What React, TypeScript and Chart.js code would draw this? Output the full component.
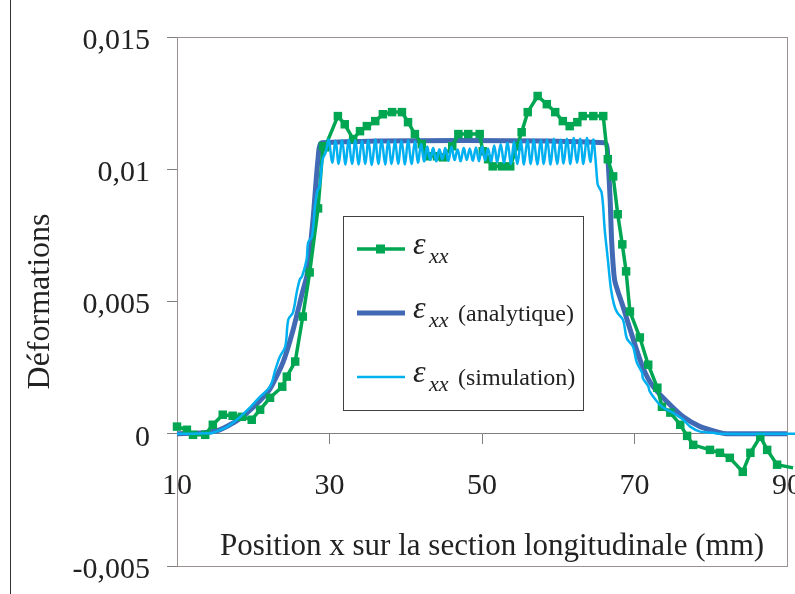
import React, { useEffect, useRef } from 'react';
import { Chart, registerables } from 'chart.js';

Chart.register(...registerables);

// ---- Data ----
const xTickValues = [10, 30, 50, 70, 90];
const yTickValues = [-0.005, 0, 0.005, 0.01, 0.015];
const yTickLabels = ['-0,005', '0', '0,005', '0,01', '0,015'];

const xAxisTitle = 'Position x sur la section longitudinale (mm)';
const yAxisTitle = 'Déformations';
const legendSymbol = 'ε';
const legendSubscript = 'xx';
const legendSuffixes = ['', '(analytique)', '(simulation)'];

// ε_xx (measured, green with square markers)
const greenX = [10.0, 11.3, 12.1, 13.7, 14.7, 16.0, 17.3, 18.5, 19.8, 20.9,
  22.2, 23.8, 24.4, 25.5, 26.5, 27.4, 28.5, 29.15, 29.4, 31.1,
  32.0, 33.1, 34.0, 34.9, 36.0, 37.0, 38.2, 39.5, 40.3, 41.2,
  42.1, 42.8, 44.1, 44.9, 46.1, 46.9, 48.2, 49.7, 50.1, 50.8,
  51.4, 52.6, 53.7, 54.6, 55.2, 56.0, 57.3, 58.5, 59.6, 60.6,
  61.5, 62.5, 63.2, 64.6, 65.9, 66.5, 67.2, 67.8, 68.4, 68.9,
  69.4, 70.7, 71.8, 73.0, 73.6, 74.7, 76.0, 76.9, 77.7, 79.9,
  81.2, 82.5, 84.2, 85.2, 86.5, 87.4, 88.7, 90.8];
const greenY = [0.00027, 0.00015, -0.00004, -0.00004, 0.00034, 0.00072, 0.00068, 0.00064, 0.00053, 0.00091,
  0.00136, 0.00178, 0.00216, 0.00273, 0.00443, 0.0061, 0.00852, 0.01087, 0.01083, 0.01201,
  0.0117, 0.01114, 0.01144, 0.01163, 0.01182, 0.01208, 0.01216, 0.01216, 0.01178, 0.01133,
  0.01095, 0.01049, 0.01049, 0.01045, 0.01087, 0.01133, 0.01133, 0.01133, 0.01068, 0.01038,
  0.01011, 0.01011, 0.01011, 0.01087, 0.0114, 0.01216, 0.01277, 0.01246, 0.01216, 0.01182,
  0.01163, 0.01178, 0.01201, 0.01201, 0.01201, 0.01038, 0.00973, 0.0083, 0.00716, 0.00614,
  0.00462, 0.00364, 0.00261, 0.00174, 0.00102, 0.0008, 0.00034, -0.00008, -0.00042, -0.00061,
  -0.00072, -0.00091, -0.00144, -0.00072, -0.00011, -0.00061, -0.00117, -0.00129];

// ε_xx (analytique)
const analyticX = [10, 13.4, 15.6, 17.9, 20.0, 22.2, 23.9, 25.2, 26.5, 27.05, 27.84, 28.5, 29.0,
  66.1, 66.5, 66.8, 67.0, 67.4, 68.5, 69.8, 71.1, 72.4, 74.3, 76.4, 78.6, 81.2, 82.0, 90.0];
const analyticY = [0, 0.00004, 0.00015, 0.0005, 0.001, 0.0017, 0.0027, 0.0039, 0.0054, 0.006, 0.0081, 0.0104, 0.011,
  0.011, 0.0104, 0.0089, 0.0073, 0.0058, 0.0048, 0.0036, 0.0025, 0.0018, 0.0012, 0.00064, 0.00027, 0.00004, 0, 0];

// ε_xx (simulation)
const simX = [10, 12, 14, 14.7, 16.6, 18.3, 19.6, 20.9, 22.2, 22.9, 23.5, 24.2, 24.6, 25.2, 25.7, 26.1, 26.4, 27.0, 27.2, 27.7,
  28.1, 28.4, 28.7, 29.1, 29.5,
  29.9, 30.35, 30.8, 31.2, 31.65, 32.1, 32.5, 32.95, 33.4, 33.8, 34.25, 34.7, 35.1, 35.55, 36.0, 36.4, 36.85, 37.3, 37.7, 38.15,
  38.6, 39.0, 39.45, 39.9, 40.3, 40.75, 41.2, 41.6,
  42.0, 42.4, 42.8, 43.2, 43.6, 44.0, 44.4, 44.8, 45.2, 45.6, 46.0, 46.4, 46.8, 47.2, 47.6, 48.0, 48.4, 48.8, 49.2, 49.6,
  50.0, 50.4, 50.8, 51.2, 51.6, 52.0, 52.45, 52.9,
  53.35, 53.8, 54.2, 54.65, 55.1, 55.5, 55.95, 56.4, 56.8, 57.25, 57.7, 58.1, 58.55, 59.0, 59.4, 59.85, 60.3, 60.7, 61.15, 61.6,
  62.0, 62.45, 62.9, 63.3, 63.75, 64.2, 64.6,
  64.85, 65.1, 65.2, 65.7, 66.1, 66.5, 66.9, 67.3, 67.7, 68.5, 69.0, 69.8, 70.3, 71.0, 71.1, 71.8, 72.0, 73.0, 73.7, 75.0,
  76.4, 77.3, 78.6, 80.3, 81.2, 91.1];
const simY = [0, 0, 0.00002, 0.00004, 0.00027, 0.00064, 0.001, 0.0014, 0.00178, 0.00242, 0.00292, 0.0033, 0.00432, 0.00458, 0.00534, 0.00583, 0.00595, 0.00659, 0.00723, 0.00746,
  0.0086, 0.00917, 0.00936, 0.01038, 0.01064,
  0.01112, 0.01025, 0.01108, 0.0102, 0.0111, 0.01018, 0.01112, 0.0102, 0.0111, 0.01018, 0.01108, 0.0102, 0.0111, 0.01016, 0.01112, 0.0102, 0.0111, 0.01018, 0.01108, 0.0102,
  0.0111, 0.0102, 0.01108, 0.01018, 0.0111, 0.0102, 0.01105, 0.01025,
  0.01095, 0.0103, 0.01085, 0.01035, 0.0108, 0.0103, 0.01075, 0.01038, 0.0108, 0.01032, 0.01085, 0.01035, 0.01075, 0.0103, 0.0108, 0.01035, 0.01078, 0.01032, 0.01082, 0.0103,
  0.01085, 0.01035, 0.01078, 0.0103, 0.0109, 0.01028, 0.01095, 0.01025,
  0.011, 0.0102, 0.01105, 0.0102, 0.01108, 0.01018, 0.0111, 0.0102, 0.01112, 0.01018, 0.0111, 0.0102, 0.01112, 0.01018, 0.01115, 0.0102, 0.01112, 0.01022, 0.01115, 0.0102,
  0.01118, 0.01025, 0.01115, 0.0102, 0.01118, 0.01028, 0.01112,
  0.0105, 0.0096, 0.0094, 0.0091, 0.0077, 0.0066, 0.0055, 0.0049, 0.0046, 0.0043, 0.0036, 0.0033, 0.0027, 0.0023, 0.0021, 0.0018, 0.0016, 0.0012, 0.001, 0.0008,
  0.00053, 0.00027, 0.00008, 0.00004, 0, 0];

// ---- Styles ----
const GREEN = '#00A651';
const BLUE = '#4169B4';
const CYAN = '#00B0F0';
const TEXT = '#222222';
const AXIS = '#808080';
const FONT = '"Liberation Serif", "Times New Roman", serif';

const toPoints = (xs: number[], ys: number[]) => xs.map((x, i) => ({ x, y: ys[i] }));

const decorPlugin = {
  id: 'decor',
  beforeDraw(chart: any) {
    const { ctx, width, height } = chart;
    ctx.save();
    ctx.fillStyle = '#ffffff';
    ctx.fillRect(0, 0, width, height);
    ctx.strokeStyle = '#333333';
    ctx.lineWidth = 1;
    ctx.beginPath();
    ctx.moveTo(10.5, 0);
    ctx.lineTo(10.5, height);
    ctx.stroke();
    ctx.restore();
  },
  beforeDatasetsDraw(chart: any) {
    const { ctx, chartArea: a } = chart;
    ctx.save();
    ctx.strokeStyle = '#9a9090';
    ctx.lineWidth = 1;
    ctx.strokeRect(Math.round(a.left) + 0.5, Math.round(a.top) + 0.5, Math.round(a.right - a.left), Math.round(a.bottom - a.top));
    ctx.restore();
  },
  afterDraw(chart: any) {
    const { ctx, chartArea: a } = chart;
    ctx.save();
    // x axis title inside the plot area
    ctx.fillStyle = TEXT;
    ctx.font = `31px ${FONT}`;
    ctx.textAlign = 'center';
    ctx.textBaseline = 'alphabetic';
    ctx.fillText(xAxisTitle, (a.left + a.right) / 2 + 10, a.bottom - 11);

    // legend
    const bx = 343, by = 216, bw = 240, bh = 194;
    ctx.fillStyle = '#ffffff';
    ctx.fillRect(bx, by, bw, bh);
    ctx.strokeStyle = '#404040';
    ctx.lineWidth = 1;
    ctx.strokeRect(bx + 0.5, by + 0.5, bw, bh);
    const ds = chart.data.datasets;
    const rows = [249, 313, 377];
    [0, 1, 2].forEach((r) => {
      const d = ds[r];
      const y = rows[r];
      ctx.strokeStyle = d.borderColor;
      ctx.lineWidth = d.borderWidth;
      ctx.beginPath();
      ctx.moveTo(357, y);
      ctx.lineTo(405, y);
      ctx.stroke();
      if (d.pointRadius > 0) {
        ctx.fillStyle = d.borderColor;
        ctx.fillRect(376, y - 4.5, 9, 9);
      }
      ctx.fillStyle = TEXT;
      ctx.textAlign = 'left';
      ctx.font = `italic 32px ${FONT}`;
      ctx.fillText(legendSymbol, 413, y + 5);
      ctx.font = `italic 22px ${FONT}`;
      ctx.fillText(legendSubscript, 429, y + 14);
      if (legendSuffixes[r]) {
        ctx.font = `24px ${FONT}`;
        ctx.fillText(legendSuffixes[r], 458, y + 8);
      }
    });
    ctx.restore();
  },
};

export default function App() {
  const ref = useRef<HTMLCanvasElement | null>(null);
  useEffect(() => {
    if (!ref.current) return;
    Chart.defaults.font.family = FONT;
    const chart = new Chart(ref.current, {
      type: 'line',
      data: {
        datasets: [
          {
            label: 'εxx',
            data: toPoints(greenX, greenY),
            borderColor: GREEN,
            backgroundColor: GREEN,
            borderWidth: 3.5,
            pointStyle: 'rect',
            pointRadius: 6,
            pointBorderWidth: 0,
            pointBackgroundColor: GREEN,
            tension: 0,
            clip: false,
            order: 1,
          },
          {
            label: 'εxx (analytique)',
            data: toPoints(analyticX, analyticY),
            borderColor: BLUE,
            backgroundColor: BLUE,
            borderWidth: 5,
            pointRadius: 0,
            tension: 0.2,
            clip: false,
            order: 2,
          },
          {
            label: 'εxx (simulation)',
            data: toPoints(simX, simY),
            borderColor: CYAN,
            backgroundColor: CYAN,
            borderWidth: 2.5,
            pointRadius: 0,
            tension: 0.35,
            clip: false,
            order: 0,
          },
        ],
      } as any,
      options: {
        animation: false,
        responsive: false,
        maintainAspectRatio: false,
        layout: { padding: { left: 0, right: 8, top: 37, bottom: 28 } },
        plugins: { legend: { display: false }, tooltip: { enabled: false } },
        scales: {
          x: {
            type: 'linear',
            position: { y: 0 } as any,
            min: 10,
            max: 90,
            afterBuildTicks: (s: any) => { s.ticks = xTickValues.map((v) => ({ value: v })); },
            afterFit: (s: any) => { s.paddingLeft = 0; s.paddingRight = 0; },
            ticks: {
              color: TEXT,
              font: { size: 30, family: FONT },
              padding: 24,
              maxRotation: 0,
              autoSkip: false,
              callback: (v: any) => String(v),
            },
            grid: { drawOnChartArea: false, drawTicks: true, tickLength: 10, color: AXIS },
            border: { display: true, color: AXIS, width: 1 },
          },
          y: {
            type: 'linear',
            position: 'left',
            min: -0.005,
            max: 0.015,
            afterBuildTicks: (s: any) => { s.ticks = yTickValues.map((v) => ({ value: v })); },
            afterFit: (s: any) => { s.width = 177; s.paddingTop = 0; s.paddingBottom = 0; },
            ticks: {
              color: TEXT,
              font: { size: 30, family: FONT },
              padding: 17,
              labelOffset: 4,
              callback: (_v: any, i: number) => yTickLabels[i],
            },
            grid: { drawOnChartArea: false, drawTicks: true, tickLength: 10, color: AXIS },
            border: { display: true, color: AXIS, width: 1 },
            title: {
              display: true,
              text: yAxisTitle,
              color: TEXT,
              font: { size: 32, family: FONT },
              padding: { top: 21, bottom: 0 },
            },
          },
        },
      } as any,
      plugins: [decorPlugin],
    });
    return () => chart.destroy();
  }, []);
  return (
    <canvas
      ref={ref}
      width={795}
      height={594}
      style={{ position: 'absolute', left: 0, top: 0, width: 795, height: 594 }}
    />
  );
}
